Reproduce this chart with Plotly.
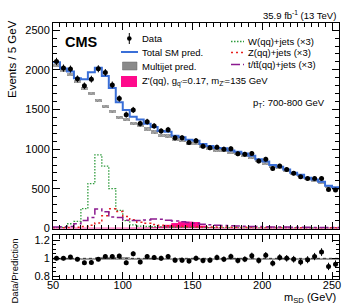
import numpy as np
import plotly.graph_objects as go

# ---------------- data (41 bins of 5 GeV, 50-255 GeV) ----------------
bin_edges = list(range(50, 256, 5))
bin_centers = [e + 2.5 for e in bin_edges[:-1]]

data = [2105, 2022, 2009, 1886, 1798, 1882, 2013, 1966, 1810, 1637,
        1435, 1494, 1322, 1346, 1293, 1228, 1245, 1143, 1143, 1085,
        1107, 1038, 1019, 1025, 1000, 1004, 942, 935, 946, 850,
        873, 756, 787, 743, 696, 652, 631, 631, 631, 490, 485]

total_pred = [2095, 2015, 1979, 1895, 1880, 1970, 2025, 1922, 1772, 1590,
              1495, 1410, 1375, 1320, 1280, 1228, 1220, 1168, 1150, 1118,
              1107, 1065, 1040, 1015, 1010, 984, 966, 944, 918, 872,
              843, 800, 779, 743, 703, 679, 641, 619, 590, 538, 519]

multijet = [2050, 1990, 1945, 1850, 1765, 1700, 1610, 1538, 1470, 1400,
            1372, 1323, 1305, 1255, 1216, 1169, 1166, 1117, 1105, 1076,
            1069, 1032, 1010, 988, 985, 961, 945, 924, 899, 854,
            826, 784, 764, 729, 689, 666, 628, 607, 578, 527, 508]
multijet_unc = [20] * 41

w_jets_x3 = [10, 15, 60, 90, 250, 566, 928, 785, 502, 228,
             100, 45, 30, 25, 22, 20, 18, 16, 15, 14,
             13, 12, 12, 11, 11, 10, 10, 9, 9, 9,
             8, 8, 8, 7, 7, 7, 6, 6, 6, 5, 5]

z_jets_x3 = [10, 10, 12, 15, 25, 40, 70, 160, 250, 215,
             150, 110, 80, 65, 50, 40, 35, 30, 28, 25,
             23, 21, 20, 19, 18, 17, 16, 15, 15, 14,
             13, 13, 12, 12, 11, 11, 10, 10, 10, 9, 9]

tt_jets_x3 = [20, 22, 25, 60, 100, 140, 245, 210, 145, 140,
              105, 100, 100, 108, 120, 118, 105, 95, 85, 75,
              65, 55, 48, 42, 38, 34, 30, 28, 26, 24,
              22, 20, 19, 18, 17, 16, 15, 14, 13, 12, 12]

zprime = [4, 4, 4, 4, 4, 4, 4, 4, 4, 4,
          4, 5, 5, 6, 10, 20, 40, 62, 80, 80,
          75, 30, 12, 6, 4, 3, 3, 3, 3, 3,
          3, 3, 3, 3, 3, 3, 3, 3, 3, 3, 3]

ratio = [1.0, 1.0, 1.015, 0.99, 0.95, 0.955, 0.99, 1.02, 1.02, 1.025,
         0.95, 1.05, 0.96, 1.02, 1.01, 1.0, 1.02, 0.98, 0.98, 0.97,
         1.0, 0.975, 0.98, 1.01, 0.99, 1.02, 0.975, 0.99, 1.03, 0.975,
         1.035, 0.945, 1.01, 1.0, 0.99, 0.96, 0.985, 1.02, 1.07, 0.91, 0.935]

ratio_unc = [0.008] * 6 + [0.015] * 5 + [0.008] * 30

y_ticks_main = [0, 500, 1000, 1500, 2000, 2500]
x_ticks = [50, 100, 150, 200, 250]
ratio_ticks = [0.8, 1.0, 1.2]
ratio_ticktext = ["0.8", "1", "1.2"]

# ---------------- helpers ----------------
def step_xy(vals):
    xs = list(bin_edges)
    ys = list(vals) + [vals[-1]]
    return xs, ys

FONT = "Liberation Sans, Arial, sans-serif"
BLUE = "#3a6fd8"
GREEN = "#2e9b3c"
RED = "#e8201e"
PURPLE = "#8b1a8f"
PINK = "#ff0a8c"
W_DASH = "1.5px,1.5px"
Z_DASH = "2px,3px"
HATCH_BG = "#a8a8a8"
HATCH_FG = "#505050"

fig = go.Figure()

# Multijet hatched boxes
fig.add_trace(go.Bar(
    x=bin_centers, y=[2 * u for u in multijet_unc],
    base=[m - u for m, u in zip(multijet, multijet_unc)],
    width=5, marker=dict(color=HATCH_BG, line=dict(width=0),
                         pattern=dict(shape="x", fgcolor=HATCH_FG, size=3, solidity=0.35)),
    xaxis="x", yaxis="y", showlegend=False))

# Z' signal (filled)
xs, ys = step_xy(zprime)
fig.add_trace(go.Scatter(x=xs, y=ys, mode="lines", line=dict(shape="hv", color=PINK, width=1),
                         fill="tozeroy", fillcolor=PINK, xaxis="x", yaxis="y", showlegend=False))

# W, Z, tt (x3)
xs, ys = step_xy(w_jets_x3)
fig.add_trace(go.Scatter(x=xs, y=ys, mode="lines", line=dict(shape="hv", color=GREEN, width=1.3, dash=W_DASH),
                         xaxis="x", yaxis="y", showlegend=False))
xs, ys = step_xy(z_jets_x3)
fig.add_trace(go.Scatter(x=xs, y=ys, mode="lines", line=dict(shape="hv", color=RED, width=1.5, dash=Z_DASH),
                         xaxis="x", yaxis="y", showlegend=False))
xs, ys = step_xy(tt_jets_x3)
fig.add_trace(go.Scatter(x=xs, y=ys, mode="lines", line=dict(shape="hv", color=PURPLE, width=1.5, dash="dashdot"),
                         xaxis="x", yaxis="y", showlegend=False))

# Total SM prediction
xs, ys = step_xy(total_pred)
fig.add_trace(go.Scatter(x=xs, y=ys, mode="lines", line=dict(shape="hv", color=BLUE, width=2),
                         xaxis="x", yaxis="y", showlegend=False))

# Data
fig.add_trace(go.Scatter(x=bin_centers, y=data, mode="markers",
                         marker=dict(color="black", size=5),
                         error_y=dict(type="data", array=list(np.sqrt(data)), color="black", thickness=1, width=0),
                         xaxis="x", yaxis="y", showlegend=False))

# Ratio panel: prediction uncertainty band
fig.add_trace(go.Bar(
    x=bin_centers, y=[2 * u for u in ratio_unc], base=[1 - u for u in ratio_unc],
    width=5, marker=dict(color=HATCH_BG, line=dict(width=0),
                         pattern=dict(shape="x", fgcolor=HATCH_FG, size=3, solidity=0.35)),
    xaxis="x2", yaxis="y2", showlegend=False))
fig.add_trace(go.Scatter(x=[50, 255], y=[1, 1], mode="lines",
                         line=dict(color="#333333", width=1, dash="dot"),
                         xaxis="x2", yaxis="y2", showlegend=False))
ratio_err = [r / np.sqrt(d) for r, d in zip(ratio, data)]
fig.add_trace(go.Scatter(x=bin_centers, y=ratio, mode="markers",
                         marker=dict(color="black", size=5),
                         error_y=dict(type="data", array=ratio_err, color="black", thickness=1, width=0),
                         xaxis="x2", yaxis="y2", showlegend=False))

# ---------------- layout ----------------
L, R, T, B = 53, 18, 23, 28
W, H = 357, 307
plot_w = W - L - R
plot_h = H - T - B

def px(x):
    return (x - L) / plot_w

def py(y):
    return (H - B - y) / plot_h

main_bottom = py(228.5)
ratio_top = py(235)

axis_common = dict(showline=True, linecolor="black", linewidth=1, mirror="allticks",
                   ticks="inside", ticklen=7, tickcolor="black", showgrid=False, zeroline=False,
                   tickfont=dict(family=FONT, size=11, color="black"))

fig.update_layout(
    width=W, height=H, margin=dict(l=L, r=R, t=T, b=B),
    paper_bgcolor="white", plot_bgcolor="white", barmode="overlay", bargap=0,
    font=dict(family=FONT, color="black"),
    xaxis=dict(domain=[0, 1], anchor="y", range=[50, 255], tickvals=x_ticks, showticklabels=False,
               minor=dict(ticks="inside", ticklen=4, dtick=5, tick0=50, tickcolor="black"),
               **axis_common),
    yaxis=dict(domain=[main_bottom, 1], anchor="x", range=[0, 2590], tickvals=y_ticks_main,
               minor=dict(ticks="inside", ticklen=4, dtick=100, tick0=0, tickcolor="black"),
               **axis_common),
    xaxis2=dict(domain=[0, 1], anchor="y2", range=[50, 255], matches="x", tickvals=x_ticks,
                ticklabelstandoff=-4,
                minor=dict(ticks="inside", ticklen=4, dtick=5, tick0=50, tickcolor="black"),
                **axis_common),
    yaxis2=dict(domain=[0, ratio_top], anchor="x2", range=[0.77, 1.26], tickvals=ratio_ticks,
                ticktext=ratio_ticktext,
                minor=dict(ticks="inside", ticklen=3, dtick=0.05, tick0=0.8, tickcolor="black"),
                **axis_common),
)

ann = []
def text(x, y, s, size=9.5, xanchor="left", yanchor="middle", bold=False, angle=0):
    ann.append(dict(xref="paper", yref="paper", x=px(x), y=py(y), text=("<b>%s</b>" % s) if bold else s,
                    showarrow=False, xanchor=xanchor, yanchor=yanchor, textangle=angle,
                    font=dict(family=FONT, size=size, color="black")))

text(63, 42, "CMS", size=14.5, bold=True)
text(338, 15, "35.9 fb<sup>-1</sup> (13 TeV)", size=9.5, xanchor="right")
text(327, 103, "p<sub>T</sub>: 700-800 GeV", size=9.5, xanchor="right")
text(338, 298, "m<sub>SD</sub> (GeV)", size=11, xanchor="right")
text(12, 18, "Events / 5 GeV", size=11.5, xanchor="center", yanchor="top", angle=-90)
text(14, 306, "Data/Prediction", size=9.5, xanchor="center", yanchor="bottom", angle=-90)

# legend left column
text(140, 38.5, "Data")
text(140, 52, "Total SM pred.")
text(140, 66, "Multijet pred.")
text(140, 81, "Z'(qq), g<sub>q'</sub>=0.17, m<sub>Z'</sub>=135 GeV")
# legend right column
text(246, 41.5, "W(qq)+jets (×3)")
text(246, 52.5, "Z(qq)+jets (×3)")
text(246, 64.5, "t/tt\u0304(qq)+jets (×3)")

shapes = []
def seg(x0, y0, x1, y1, color, width=1, dash="solid"):
    shapes.append(dict(type="line", xref="paper", yref="paper", x0=px(x0), y0=py(y0), x1=px(x1), y1=py(y1),
                       line=dict(color=color, width=width, dash=dash)))

# Data marker
seg(129.3, 33, 129.3, 44, "black", 1)
shapes.append(dict(type="circle", xref="paper", yref="paper", x0=px(127), y0=py(36.2), x1=px(131.6), y1=py(40.8),
                   fillcolor="black", line=dict(color="black", width=0)))
seg(121, 52, 138, 52, BLUE, 2)
shapes.append(dict(type="rect", xref="paper", yref="paper", x0=px(122.5), y0=py(70), x1=px(137), y1=py(62),
                   fillcolor="#8a8a8a", line=dict(color="#666666", width=0.5)))
shapes.append(dict(type="rect", xref="paper", yref="paper", x0=px(121), y0=py(87), x1=px(137), y1=py(76),
                   fillcolor=PINK, line=dict(width=0)))
seg(231, 41.5, 244, 41.5, GREEN, 1.3, W_DASH)
seg(231, 52.5, 244, 52.5, RED, 1.5, Z_DASH)
seg(231, 64.5, 244, 64.5, PURPLE, 1.5, "dashdot")

fig.update_layout(annotations=ann, shapes=shapes)

fig.write_html("out.html", config={"displayModeBar": False},
               post_script="document.body.style.margin='0';document.body.style.overflow='hidden';")
